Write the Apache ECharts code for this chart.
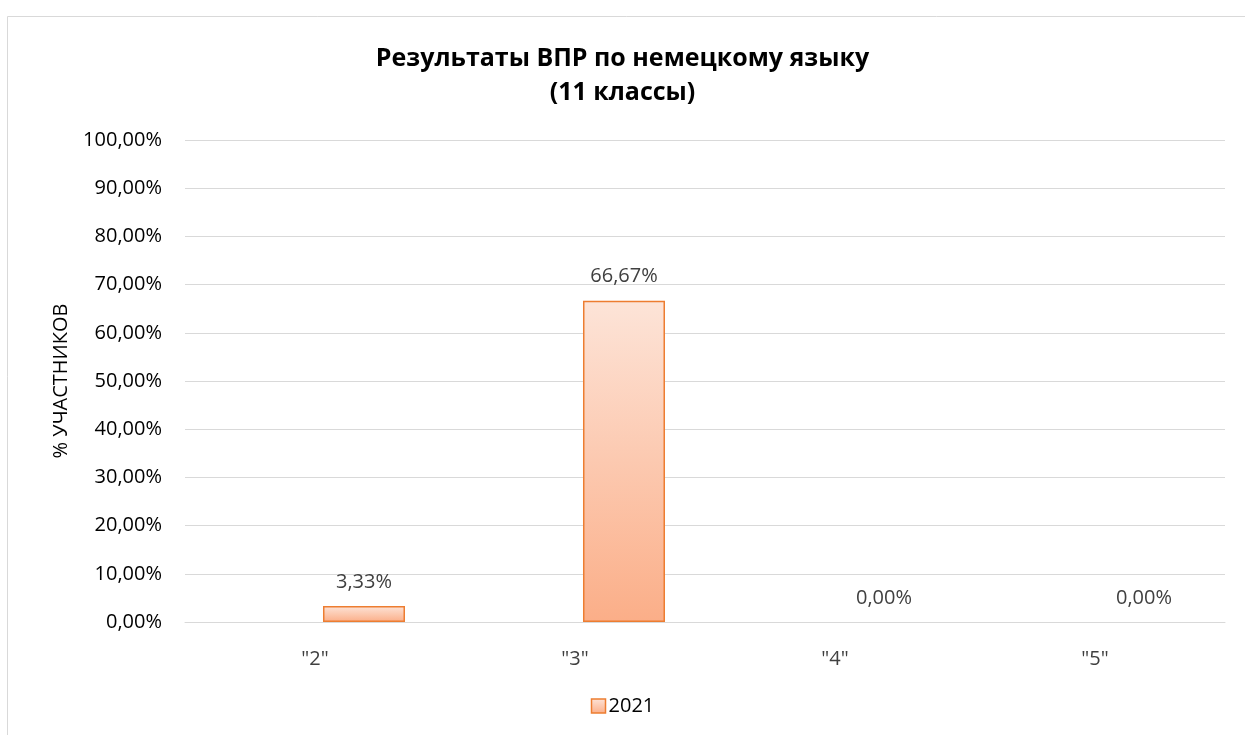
<!DOCTYPE html>
<html>
<head>
<meta charset="utf-8">
<title>Результаты ВПР по немецкому языку</title>
<script src="https://cdn.jsdelivr.net/npm/echarts@6/dist/echarts.min.js"></script>
<style>
  html, body { margin: 0; padding: 0; background: #fff; }
  #chart { width: 1245px; height: 735px; }
</style>
</head>
<body>
<div id="chart"></div>
<script>
// data
const categories = ['"2"', '"3"', '"4"', '"5"']
const values2021 = [3.33, 66.67, 0, 0]
const emptySeries = ['-', '-', '-', '-'] // empty slot series, as in the source chart
const yTicks = { min: 0, max: 100, interval: 10 }

const fontFamily = '"Open Sans", "Noto Sans", sans-serif'
const textColor = '#404040'

function pct (v) {
  return Number(v).toFixed(2).replace('.', ',') + '%'
}

const barFill = new echarts.graphic.LinearGradient(0, 0, 0, 1, [
  { offset: 0, color: '#fde4d8' },
  { offset: 1, color: '#fbae88' }
])

// zero-height bars show no outline in the original
const barData = values2021.map(v => v === 0 ? { value: v, itemStyle: { borderWidth: 0 } } : v)

const chart = echarts.init(document.getElementById('chart'))

chart.setOption({
  backgroundColor: '#fff',
  textStyle: { fontFamily: fontFamily },
  graphic: [{
    type: 'rect',
    left: 5,
    top: 14,
    shape: { width: 1300, height: 800 },
    style: { fill: 'none', stroke: '#d9d9d9', lineWidth: 1 },
    silent: true
  }],
  title: {
    text: 'Результаты ВПР по немецкому языку\n(11 классы)',
    left: 'center',
    top: 37,
    textStyle: {
      fontFamily: fontFamily,
      fontSize: 25,
      fontWeight: 'bold',
      color: '#000',
      lineHeight: 34
    }
  },
  grid: {
    left: 185,
    right: 20,
    top: 140,
    bottom: 113
  },
  legend: {
    data: ['2021'],
    bottom: 14,
    left: 'center',
    icon: 'rect',
    itemWidth: 14,
    itemHeight: 14,
    itemGap: 6,
    itemStyle: { color: barFill, borderColor: '#ed7d31', borderWidth: 1.5 },
    textStyle: { fontSize: 20, color: '#000', fontFamily: fontFamily, padding: [0, 0, 0, -2] }
  },
  xAxis: {
    type: 'category',
    data: categories,
    axisTick: { show: false },
    axisLine: { lineStyle: { color: '#d9d9d9', width: 1 } },
    axisLabel: {
      margin: 27,
      fontSize: 20,
      color: textColor,
      fontFamily: fontFamily
    }
  },
  yAxis: {
    type: 'value',
    min: yTicks.min,
    max: yTicks.max,
    interval: yTicks.interval,
    name: '% УЧАСТНИКОВ',
    nameLocation: 'middle',
    nameGap: 114,
    nameTextStyle: { fontSize: 20, color: '#000', fontFamily: fontFamily },
    axisLine: { show: false },
    axisTick: { show: false },
    splitLine: { lineStyle: { color: '#d9d9d9', width: 1 } },
    axisLabel: {
      margin: 23,
      fontSize: 20,
      color: '#000',
      fontFamily: fontFamily,
      formatter: pct
    }
  },
  series: [
    {
      name: '',
      type: 'bar',
      data: emptySeries,
      barWidth: 82,
      barGap: '19.5%'
    },
    {
      name: '2021',
      type: 'bar',
      data: barData,
      barWidth: 82,
      barGap: '19.5%',
      itemStyle: {
        color: barFill,
        borderColor: '#ed7d31',
        borderWidth: 1.5
      },
      label: {
        show: true,
        position: 'top',
        distance: 14,
        fontSize: 20,
        color: textColor,
        fontFamily: fontFamily,
        formatter: p => pct(p.value)
      }
    }
  ]
})
</script>
</body>
</html>
